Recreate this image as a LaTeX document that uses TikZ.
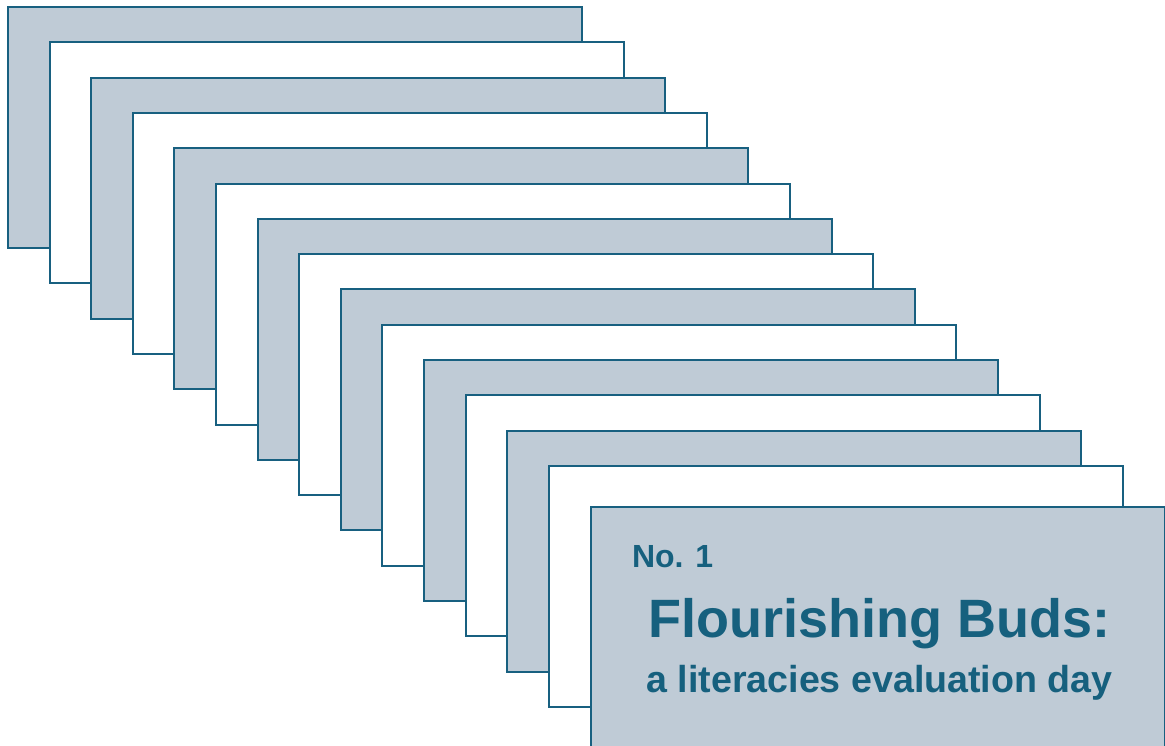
\documentclass[tikz,border=0pt]{standalone}
\usepackage{fontspec}
\setmainfont{Liberation Sans}
\definecolor{cardgray}{RGB}{191,203,214}
\definecolor{cardline}{RGB}{24,96,128}
\definecolor{titleblue}{RGB}{22,96,126}
\tikzset{
  card/.style={rectangle, draw=cardline, line width=2.2pt, inner sep=0pt, outer sep=0pt,
    minimum width=574pt, minimum height=241pt, anchor=north west},
  graycard/.style={card, fill=cardgray},
  whitecard/.style={card, fill=white},
  titletext/.style={text=titleblue, font=\bfseries, inner sep=0pt, outer sep=0pt}
}
\begin{document}
\begin{tikzpicture}[x=1pt,y=-1pt]
\useasboundingbox (0,0) rectangle (1165,745);
\clip (0,0) rectangle (1165,745);
\foreach \i in {1,...,14}{
  \pgfmathsetmacro{\xx}{round(8+41.6*(\i-1))}
  \pgfmathsetmacro{\yy}{round(7+35.3*(\i-1))}
  \ifodd\i
    \node[graycard] (r\i) at (\xx,\yy) {};
  \else
    \node[whitecard] (r\i) at (\xx,\yy) {};
  \fi
}
\node[graycard] (r15) at (591,507) {};
\node[titletext, anchor=base west, font=\bfseries\fontsize{32}{32}\selectfont] (no) at (632,567.7) {No. 1};
\node[titletext, anchor=base, font=\bfseries\fontsize{54}{54}\selectfont] (title) at (879.5,637.5) {Flourishing Buds:};
\node[titletext, anchor=base, font=\bfseries\fontsize{37.6}{37.6}\selectfont] (sub) at (879.5,692) {a literacies evaluation day};
\end{tikzpicture}
\end{document}
